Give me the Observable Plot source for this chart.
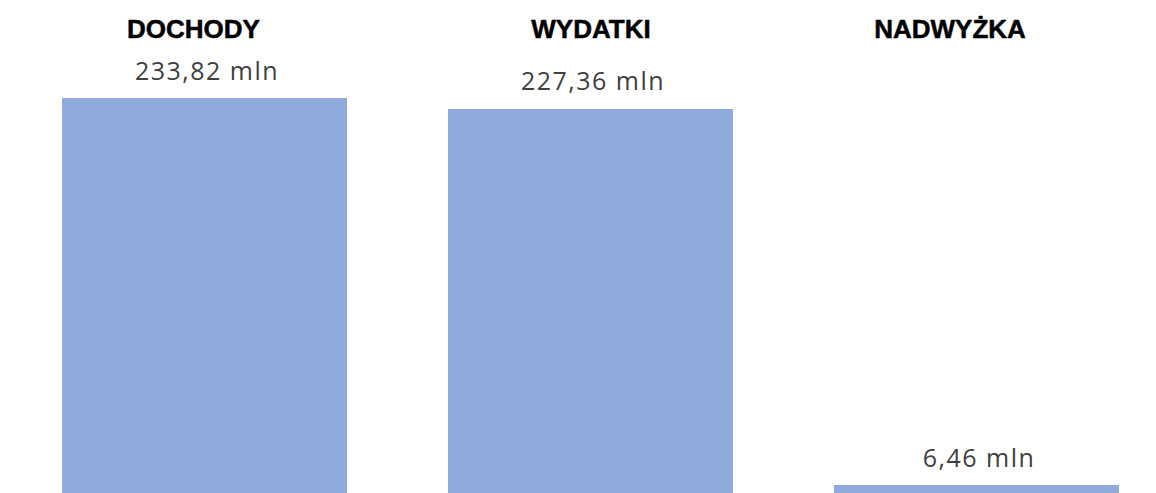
<!DOCTYPE html>
<html><head><meta charset="utf-8">
<script src="https://cdn.jsdelivr.net/npm/d3@7"></script>
<script src="https://cdn.jsdelivr.net/npm/@observablehq/plot@0.6"></script>
<style>body{margin:0;background:#fff;overflow:hidden} g[fill="#404040"] text{letter-spacing:1.5px}</style>
</head><body><div id="chart"></div>
<script>
const categories = ["DOCHODY", "WYDATKI", "NADWYŻKA"];
const values = [233.82, 227.36, 6.46];
const valueLabels = ["233,82 mln", "227,36 mln", "6,46 mln"];

const data = categories.map((c, i) => ({category: c, value: values[i], label: valueLabels[i]}));

const titleFont = {fontFamily: "'Liberation Sans', Arial, sans-serif", fontSize: 26, fontWeight: "bold", fill: "#000", stroke: "#000", strokeWidth: 0.5};

const chart = Plot.plot({
  width: 1156,
  height: 493,
  marginTop: 0, marginBottom: 0, marginLeft: 0, marginRight: 0,
  x: {domain: categories, range: [11.5, 1169.5], paddingInner: 0.2617, paddingOuter: 0.13085, axis: null},
  y: {domain: [0, 233.82], range: [496, 98], axis: null},
  marks: [
    Plot.barY(data, {x: "category", y: "value", fill: "#8FAADC"}),
    Plot.text(data, {x: "category", y: "value", text: "label", lineAnchor: "bottom", dy: -19, dx: 2,
      fill: "#404040", fontSize: 25, fontFamily: "'Open Sans', sans-serif"}),
    Plot.text(data.filter(d => d.category === "DOCHODY"), {x: "category", text: "category", frameAnchor: "top", lineAnchor: "bottom", dy: 37, dx: -11.5, ...titleFont}),
    Plot.text(data.filter(d => d.category === "WYDATKI"), {x: "category", text: "category", frameAnchor: "top", lineAnchor: "bottom", dy: 37, dx: 0, ...titleFont}),
    Plot.text(data.filter(d => d.category === "NADWYŻKA"), {x: "category", text: "category", frameAnchor: "top", lineAnchor: "bottom", dy: 37, dx: -27, ...titleFont})
  ]
});
document.getElementById("chart").append(chart);
</script>
</body></html>
